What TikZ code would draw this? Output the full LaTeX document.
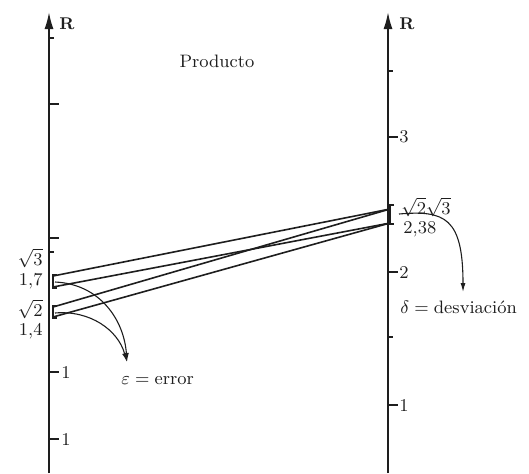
\documentclass[tikz,border=0pt]{standalone}
\usepackage{amsmath}
\usetikzlibrary{arrows.meta}
\definecolor{ink}{HTML}{1E1E1E}

\begin{document}
\begin{tikzpicture}[x=0.5pt,y=-0.5pt,font=\fontsize{9}{10}\selectfont,
  axis/.style={-{Latex[length=8.5pt,width=4.5pt]},line width=0.9pt,draw=ink},
  tick/.style={line width=0.7pt,draw=ink},
  link/.style={line width=0.8pt,draw=ink},
  curvearr/.style={-{Latex[length=4.5pt,width=2.5pt]},line width=0.55pt,draw=ink},
  lab/.style={inner sep=0.5pt,text=ink}]
  \useasboundingbox (0,0) rectangle (529,473);

  \coordinate (lbot) at (49,473);
  \coordinate (ltop) at (49,12);
  \coordinate (rbot) at (388,473);
  \coordinate (rtop) at (388,12);
  \draw[axis] (lbot) -- (ltop);
  \draw[axis] (rbot) -- (rtop);
  \node[lab,font=\fontsize{8.5}{10}\selectfont\bfseries] (lR) at (67,24) {R};
  \node[lab,font=\fontsize{8.5}{10}\selectfont\bfseries] (rR) at (407,24) {R};
  \node[lab] (title) at (217,61) {Producto};

  \foreach \y in {104,238,372,439} \draw[tick] (49,\y) -- ++(10,0);
  \foreach \y in {38,252} \draw[tick] (49,\y) -- ++(5,0);
  \foreach \y in {137,272,405} \draw[tick] (388,\y) -- ++(10,0);
  \foreach \y in {71,337} \draw[tick] (388,\y) -- ++(5,0);
  \node[lab,anchor=west] (lone) at (60,372) {1};
  \node[lab,anchor=west] (ltwo) at (60,439) {1};
  \node[lab,anchor=west] (rthree) at (398,137) {3};
  \node[lab,anchor=west] (rtwo) at (398,272) {2};
  \node[lab,anchor=west] (rone) at (398,405) {1};

  \draw[tick] (57,275) -- (53,275) -- (53,288) -- (57,288);
  \draw[tick] (57,306) -- (53,306) -- (53,318) -- (57,318);
  \draw[tick] (394,205) -- (390,205) -- (390,224) -- (394,224);

  \coordinate (sqrtthree) at (53,276);
  \coordinate (onesev) at (53,287);
  \coordinate (sqrttwo) at (53,307);
  \coordinate (onefour) at (53,317);
  \coordinate (sqrtsix) at (390,209);
  \coordinate (prodapprox) at (390,223);
  \draw[link] (sqrtthree) -- (sqrtsix);
  \draw[link] (sqrttwo) -- (sqrtsix);
  \draw[link] (onesev) -- (prodapprox);
  \draw[link] (onefour) -- (prodapprox);

  \node[lab,inner sep=0pt,anchor=east] (lsqrt3) at (43,258) {$\sqrt{3}$};
  \node[lab,inner sep=0pt,anchor=east] (l17) at (43,281) {1,7};
  \node[lab,inner sep=0pt,anchor=east] (lsqrt2) at (43,309) {$\sqrt{2}$};
  \node[lab,inner sep=0pt,anchor=east] (l14) at (43,331) {1,4};
  \node[lab,anchor=west] (rsqrt6) at (400,207) {$\sqrt{2}\sqrt{3}$};
  \node[lab,anchor=west] (r238) at (402,229) {2,38};

  \coordinate (errA) at (55,282);
  \coordinate (errB) at (55,313);
  \coordinate (errtip) at (127,362);
  \coordinate (devA) at (399,214);
  \coordinate (devtip) at (463,292);
  \draw[curvearr] (errA) .. controls (100,284) and (124,320) .. (errtip);
  \draw[curvearr] (errB) .. controls (90,310) and (118,330) .. (errtip);
  \draw[curvearr] (devA) .. controls (445,210) and (463,218) .. (devtip);

  \node[lab,anchor=west] (errlab) at (120,381) {$\varepsilon = \text{error}$};
  \node[lab,anchor=west] (devlab) at (399,307) {$\delta = \text{desviación}$};
\end{tikzpicture}
\end{document}
